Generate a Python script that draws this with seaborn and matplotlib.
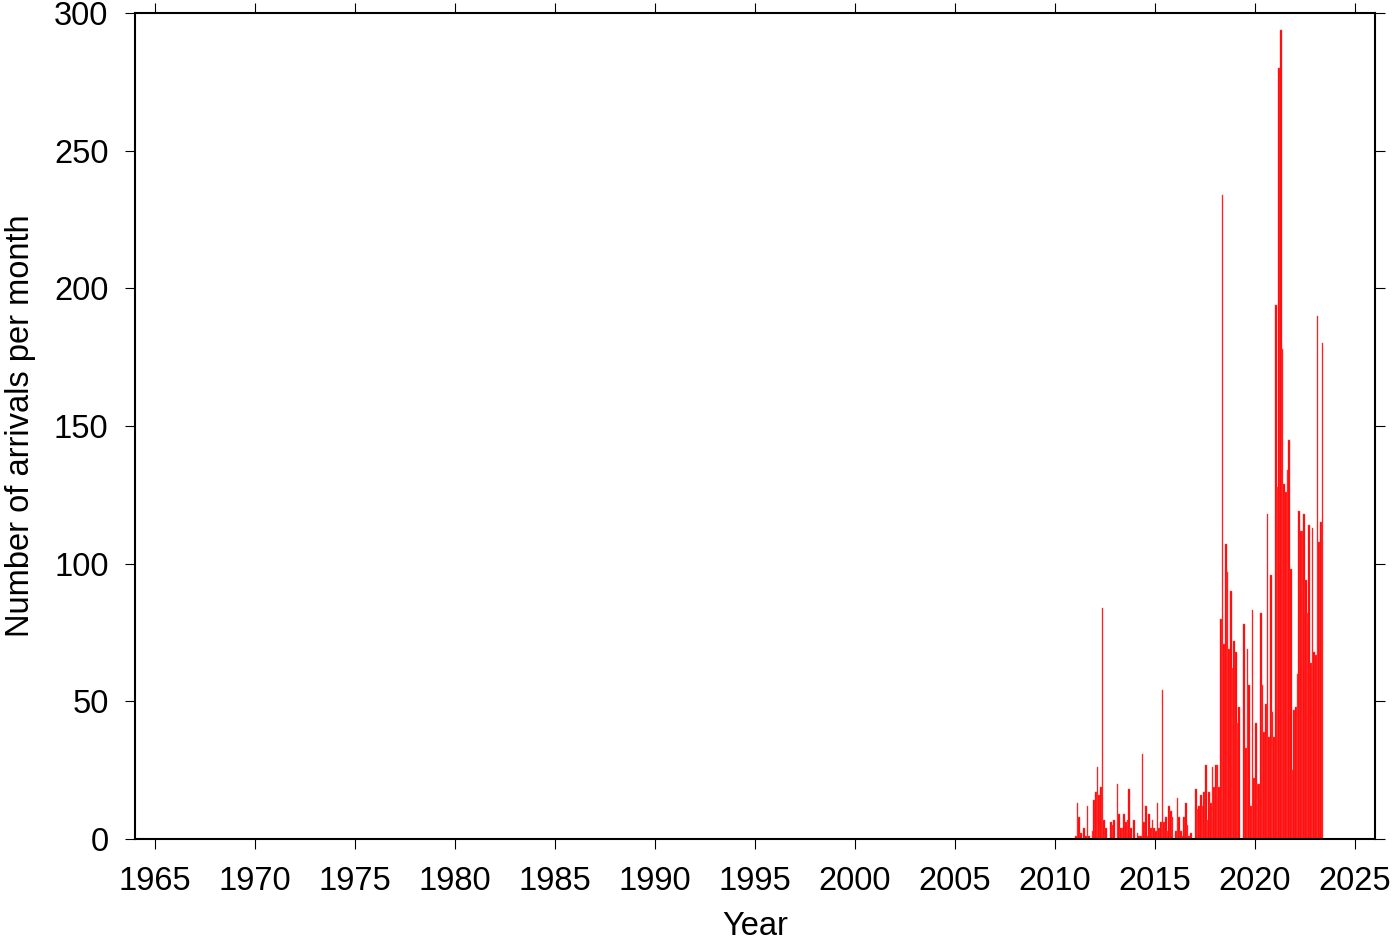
"""
Monthly arrivals histogram, 1964-2026 axis, seaborn histplot with weights.
"""

import numpy as np
import pandas as pd
import matplotlib
matplotlib.use("Agg")
import matplotlib.pyplot as plt
import seaborn as sns

# ── Data: arrivals per month (Jan..Dec) ──────────────────────────────────────
FIRST_YEAR = 2011
COUNTS_2011 = [1, 13, 8, 2, 0, 4, 1, 12, 1, 0, 3, 14]
COUNTS_2012 = [17, 26, 16, 19, 84, 7, 4, 0, 0, 6, 5, 7]
COUNTS_2013 = [0, 20, 9, 4, 4, 9, 6, 7, 18, 4, 0, 7]
COUNTS_2014 = [0, 2, 1, 1, 31, 6, 12, 1, 9, 4, 7, 4]
COUNTS_2015 = [3, 13, 4, 6, 54, 6, 8, 3, 12, 10, 8, 0]
COUNTS_2016 = [3, 15, 8, 3, 1, 8, 13, 5, 1, 2, 0, 0]
COUNTS_2017 = [18, 11, 12, 16, 12, 17, 27, 7, 17, 13, 26, 19]
COUNTS_2018 = [27, 27, 19, 80, 234, 71, 107, 97, 69, 90, 62, 72]
COUNTS_2019 = [68, 42, 48, 0, 0, 78, 33, 69, 56, 12, 83, 22]
COUNTS_2020 = [42, 20, 20, 82, 56, 39, 49, 118, 37, 96, 46, 37]
COUNTS_2021 = [194, 128, 280, 294, 178, 129, 126, 134, 145, 98, 25, 47]
COUNTS_2022 = [48, 60, 119, 112, 112, 118, 94, 82, 114, 64, 113, 68]
COUNTS_2023 = [67, 190, 108, 115, 180]

X_TICKS = list(range(1965, 2026, 5))
Y_TICKS = [0, 50, 100, 150, 200, 250, 300]

# ── Build table: one row per month, x = middle of the month ─────────────────
counts = (COUNTS_2011 + COUNTS_2012 + COUNTS_2013 + COUNTS_2014 + COUNTS_2015
          + COUNTS_2016 + COUNTS_2017 + COUNTS_2018 + COUNTS_2019 + COUNTS_2020
          + COUNTS_2021 + COUNTS_2022 + COUNTS_2023)
n_months = len(counts)
month_idx = np.arange(n_months)
df = pd.DataFrame({
    "year": FIRST_YEAR + (month_idx + 0.5) / 12.0,
    "count": counts,
})
last_edge = FIRST_YEAR + n_months / 12.0

# ── Plot ─────────────────────────────────────────────────────────────────────
sns.set_style("ticks")
plt.rcParams["font.family"] = ["Liberation Sans", "DejaVu Sans"]

fig = plt.figure(figsize=(14, 9.42), dpi=100)
ax = fig.add_axes([135 / 1400, 103 / 942, 1240 / 1400, 826 / 942])

sns.histplot(
    data=df,
    x="year",
    weights="count",
    binwidth=1.0 / 12.0,
    binrange=(FIRST_YEAR, last_edge),
    color="#ff0000",
    alpha=1.0,
    edgecolor="#ff5050",
    linewidth=0.3,
    ax=ax,
)

ax.set_xlim(1964, 2026)
ax.set_ylim(0, 300)
ax.set_xticks(X_TICKS)
ax.set_yticks(Y_TICKS)

for side in ["top", "right", "bottom", "left"]:
    ax.spines[side].set_visible(True)
    ax.spines[side].set_linewidth(1.5)
    ax.spines[side].set_color("black")

ax.tick_params(
    axis="both", direction="out", length=7.5, width=0.8, color="black",
    labelsize=23.5, labelcolor="black",
    top=True, right=True, labeltop=False, labelright=False,
)
ax.tick_params(axis="x", pad=12)
ax.tick_params(axis="y", pad=11.5)

ax.set_xlabel("Year", fontsize=23.5, labelpad=10, color="black")
ax.set_ylabel("Number of arrivals per month", fontsize=23.5, labelpad=13,
              color="black")

fig.savefig("out.png", dpi=100)
plt.close(fig)
